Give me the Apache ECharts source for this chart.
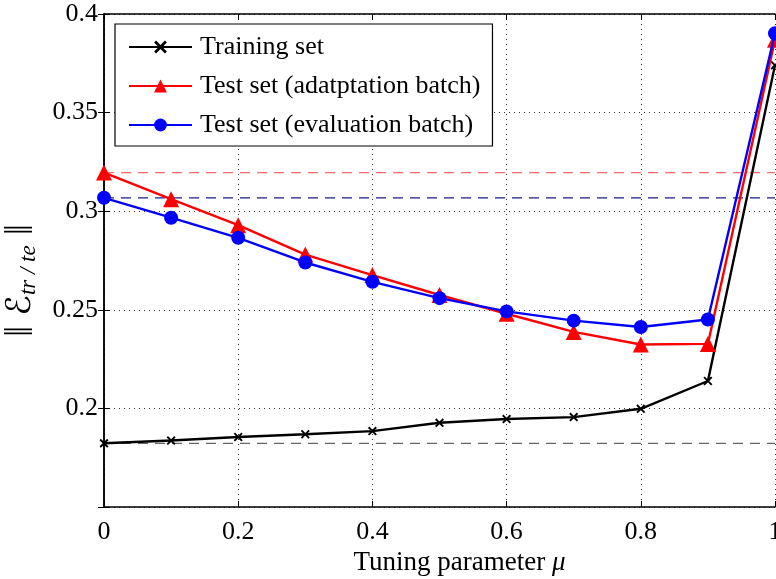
<!DOCTYPE html>
<html><head><meta charset="utf-8">
<script src="https://cdn.jsdelivr.net/npm/echarts@6/dist/echarts.min.js"></script>
<style>html,body{margin:0;padding:0;background:#fff}#c{width:776px;height:579px}</style>
</head><body><div id="c"></div>
<script>
const mu = [0, 0.1, 0.2, 0.3, 0.4, 0.5, 0.6, 0.7, 0.8, 0.9, 1.0];
const trainingSet = [0.1823, 0.1837, 0.1855, 0.1869, 0.1885, 0.1927, 0.1946, 0.1956, 0.1998, 0.2139, 0.374];
const testAdaptation = [0.3196, 0.3061, 0.2929, 0.278, 0.2676, 0.2575, 0.248, 0.2388, 0.2324, 0.2327, 0.387];
const testEvaluation = [0.3068, 0.2967, 0.2865, 0.274, 0.2642, 0.2559, 0.2492, 0.2445, 0.2413, 0.2451, 0.3902];
const seriesNames = ['Training set', 'Test set (adatptation batch)', 'Test set (evaluation batch)'];
const xTicks = [0, 0.2, 0.4, 0.6, 0.8, 1];
const yTicks = [0.2, 0.25, 0.3, 0.35, 0.4];

const pairs = (ys) => mu.map((x, i) => [x, ys[i]]);
const refLine = (v) => [[mu[0], v], [mu[mu.length - 1], v]];
const serif = '"Liberation Serif", "DejaVu Serif", serif';
const xSym = 'path://M0,1.5 L1.5,0 L5,3.5 L8.5,0 L10,1.5 L6.5,5 L10,8.5 L8.5,10 L5,6.5 L1.5,10 L0,8.5 L3.5,5 Z';

const chart = echarts.init(document.getElementById('c'), null, {renderer: 'canvas'});
const gridLine = {show: true, lineStyle: {color: '#333', type: [1, 4], width: 1}};
chart.setOption({
  animation: false,
  backgroundColor: '#fff',
  grid: {left: 104, right: 1, top: 14, bottom: 72, containLabel: false, outerBoundsMode: 'none'},
  legend: {
    data: [
      {name: seriesNames[0]}, {name: seriesNames[1]}, {name: seriesNames[2]}
    ],
    orient: 'vertical', left: 115, top: 24,
    backgroundColor: '#fff', borderColor: '#000', borderWidth: 1.2,
    padding: [10, 12, 8, 13], itemGap: 13, itemWidth: 63, itemHeight: 16,
    textStyle: {fontFamily: serif, fontSize: 26, color: '#000', padding: [0, 0, 0, 3]}
  },
  xAxis: [{
    type: 'value', min: 0, max: 1, interval: 0.2,
    name: '{t|Tuning parameter }{m|μ}', nameLocation: 'middle', nameGap: 40,
    nameTextStyle: {padding: [0, 0, 0, 40], verticalAlign: 'top',
      rich: {t: {fontFamily: serif, fontSize: 27, color: '#000'}, m: {fontFamily: serif, fontSize: 27, fontStyle: 'italic', color: '#000'}}},
    axisLine: {lineStyle: {color: '#000', width: 1.5}},
    axisTick: {inside: true, length: 6, lineStyle: {color: '#000'}},
    axisLabel: {fontFamily: serif, fontSize: 26, color: '#000', margin: 12,
      formatter: (v) => xTicks.some(t => Math.abs(t - v) < 1e-9) ? String(+v.toFixed(2)) : ''},
    splitLine: gridLine
  }, {
    type: 'value', min: 0, max: 1, interval: 0.2, position: 'top',
    axisLine: {show: true, lineStyle: {color: '#000', width: 1.5}},
    axisTick: {inside: true, length: 6, lineStyle: {color: '#000'}},
    axisLabel: {show: false}, splitLine: {show: false}
  }],
  yAxis: [{
    type: 'value', min: 0.15, max: 0.4, interval: 0.05,
    name: '{n|‖ }{e|ℰ}{s|tr / te}{n| ‖}', nameLocation: 'middle', nameGap: 58, nameRotate: 90,
    nameTextStyle: {padding: [0, 40, 0, 0], rich: {
      n: {fontFamily: serif, fontSize: 40, color: '#000'},
      e: {fontFamily: '"DejaVu Sans", sans-serif', fontSize: 34, fontStyle: 'italic', color: '#000'},
      s: {fontFamily: serif, fontSize: 23, fontStyle: 'italic', color: '#000', padding: [15, 0, 0, 0]}
    }},
    axisLine: {lineStyle: {color: '#000', width: 1.5}},
    axisTick: {inside: true, length: 6, lineStyle: {color: '#000'}},
    axisLabel: {fontFamily: serif, fontSize: 26, color: '#000', margin: 6,
      formatter: (v) => yTicks.some(t => Math.abs(t - v) < 1e-9) ? String(+v.toFixed(2)) : ''},
    splitLine: gridLine
  }, {
    type: 'value', min: 0.15, max: 0.4, interval: 0.05, position: 'right',
    axisLine: {show: true, lineStyle: {color: '#000', width: 1.5}},
    axisTick: {show: true, inside: true, length: 6, lineStyle: {color: '#000'}},
    axisLabel: {show: false}, splitLine: {show: false}
  }],
  series: [
    {name: 'refTrain', type: 'line', data: refLine(trainingSet[0]), symbol: 'none', silent: true,
      lineStyle: {color: '#666', width: 1.2, type: [10, 7]}, z: 1},
    {name: 'refAdapt', type: 'line', data: refLine(testAdaptation[0]), symbol: 'none', silent: true,
      lineStyle: {color: '#ff6a6a', width: 1.2, type: [10, 7]}, z: 1},
    {name: 'refEval', type: 'line', data: refLine(testEvaluation[0]), symbol: 'none', silent: true,
      lineStyle: {color: '#1a1a90', width: 1.2, type: [10, 7]}, z: 1},
    {name: seriesNames[0], type: 'line', data: pairs(trainingSet), symbol: xSym, symbolSize: 9,
      itemStyle: {color: '#000'}, lineStyle: {color: '#000', width: 2.4}, z: 3},
    {name: seriesNames[1], type: 'line', data: pairs(testAdaptation), symbol: 'triangle', symbolSize: 16,
      itemStyle: {color: '#ff0000'}, lineStyle: {color: '#ff0000', width: 2.4}, z: 4},
    {name: seriesNames[2], type: 'line', data: pairs(testEvaluation), symbol: 'circle', symbolSize: 14,
      itemStyle: {color: '#0000ff'}, lineStyle: {color: '#0000ff', width: 2.4}, z: 5}
  ]
});
</script></body></html>
